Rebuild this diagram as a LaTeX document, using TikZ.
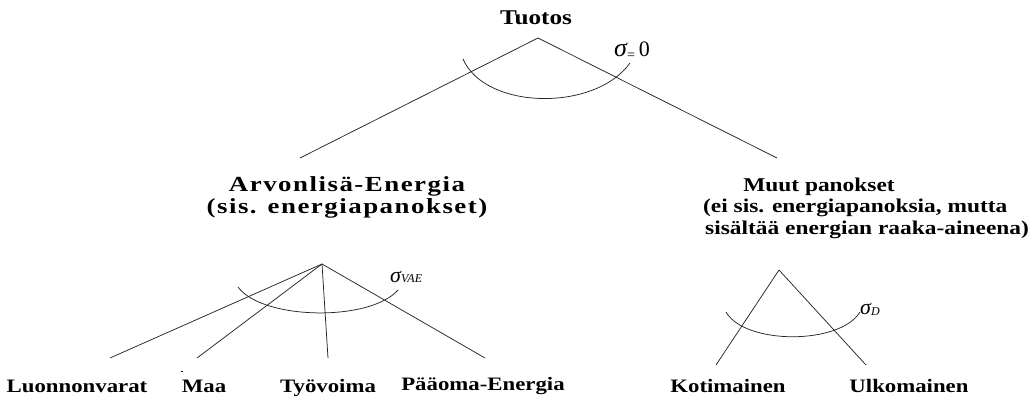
\documentclass[tikz,border=0pt]{standalone}
\usepackage{fontspec}
\setmainfont{Liberation Serif}
\newfontfamily\wfont{Liberation Serif}[FakeStretch=1.2]
\newfontfamily\wsfont{Liberation Serif}[FakeStretch=1.25, LetterSpace=7]
\newfontfamily\sigfont{Liberation Serif}
\begin{document}
\begin{tikzpicture}[x=1pt,y=-1pt,
  lbl/.style={font=\wfont\bfseries\fontsize{21}{23}\selectfont, inner sep=0pt, anchor=base},
  rlbl/.style={font=\wfont\bfseries\fontsize{19.5}{22}\selectfont, inner sep=0pt, anchor=base},
  lblsp/.style={font=\wsfont\bfseries\fontsize{21.5}{23}\selectfont, inner sep=0pt, anchor=base},
  leaf/.style={font=\wfont\bfseries\fontsize{19}{21}\selectfont, inner sep=0pt, anchor=base},
  sig/.style={font=\sigfont, inner sep=0pt, anchor=base west},
  branch/.style={line width=0.75pt, black!85},
  arcline/.style={line width=0.75pt, black!85}]
\useasboundingbox (0,0) rectangle (1034,401);

% top level
\node[lbl] (tuotos) at (536,25) {Tuotos};
\coordinate (top) at (538,38);
\coordinate (topL) at (300,158);
\coordinate (topR) at (777,158);
\draw[branch] (top) -- (topL);
\draw[branch] (top) -- (topR);
\coordinate (a1s) at (463,59);
\coordinate (a1e) at (630,63);
\draw[arcline] (a1s) .. controls (485,110) and (595,112) .. (a1e);
\node[sig] (sig0) at (614,57) {{\fontsize{26}{26}\selectfont\itshape σ}\raisebox{-3pt}{\fontsize{14}{14}\selectfont =}\hspace{4pt}{\fontsize{22}{22}\selectfont 0}};

% headings
\node[lblsp] (vae1) at (347,192) {Arvonlisä-Energia};
\node[lblsp] (vae2) at (347,213) {(sis. energiapanokset)};
\node[rlbl] (muut1) at (819,191) {Muut panokset};
\node[rlbl, anchor=base west] (muut2) at (703,212) {(ei sis. energiapanoksia, mutta};
\node[rlbl, anchor=base west] (muut3) at (705,234) {sisältää energian raaka-aineena)};

% lower left
\coordinate (vae) at (322,264);
\coordinate (eL1) at (110,358);
\coordinate (eL2) at (197,358);
\coordinate (eL3) at (328,358);
\coordinate (eL4) at (485,358);
\draw[branch] (vae) -- (eL1);
\draw[branch] (vae) -- (eL2);
\draw[branch] (vae) -- (eL3);
\draw[branch] (vae) -- (eL4);
\coordinate (a2s) at (238,287);
\coordinate (a2e) at (398,290);
\draw[arcline] (a2s) .. controls (262,320) and (370,322) .. (a2e);
\node[sig] (sigvae) at (390,282) {{\fontsize{22}{22}\selectfont\itshape σ}{\fontsize{12}{12}\selectfont\itshape VAE}};

% lower right
\coordinate (muu) at (779,270);
\coordinate (eR1) at (716,365);
\coordinate (eR2) at (866,365);
\draw[branch] (muu) -- (eR1);
\draw[branch] (muu) -- (eR2);
\coordinate (a3s) at (726,312);
\coordinate (a3e) at (860,312);
\draw[arcline] (a3s) .. controls (745,345) and (840,345) .. (a3e);
\node[sig] (sigd) at (860,314) {{\fontsize{22}{22}\selectfont\itshape σ}\raisebox{-1pt}{\fontsize{12}{12}\selectfont\itshape D}};

% leaves
\node[leaf] (luo) at (77,392) {Luonnonvarat};
\node[leaf] (maa) at (204,392) {Maa};
\draw[line width=0.8pt] (181,371) -- (183,371);
\node[leaf] (tyo) at (328,392) {Työvoima};
\node[leaf] (paa) at (483,390) {Pääoma-Energia};
\node[leaf] (koti) at (728,392) {Kotimainen};
\node[leaf] (ulko) at (909,392) {Ulkomainen};
\end{tikzpicture}
\end{document}
